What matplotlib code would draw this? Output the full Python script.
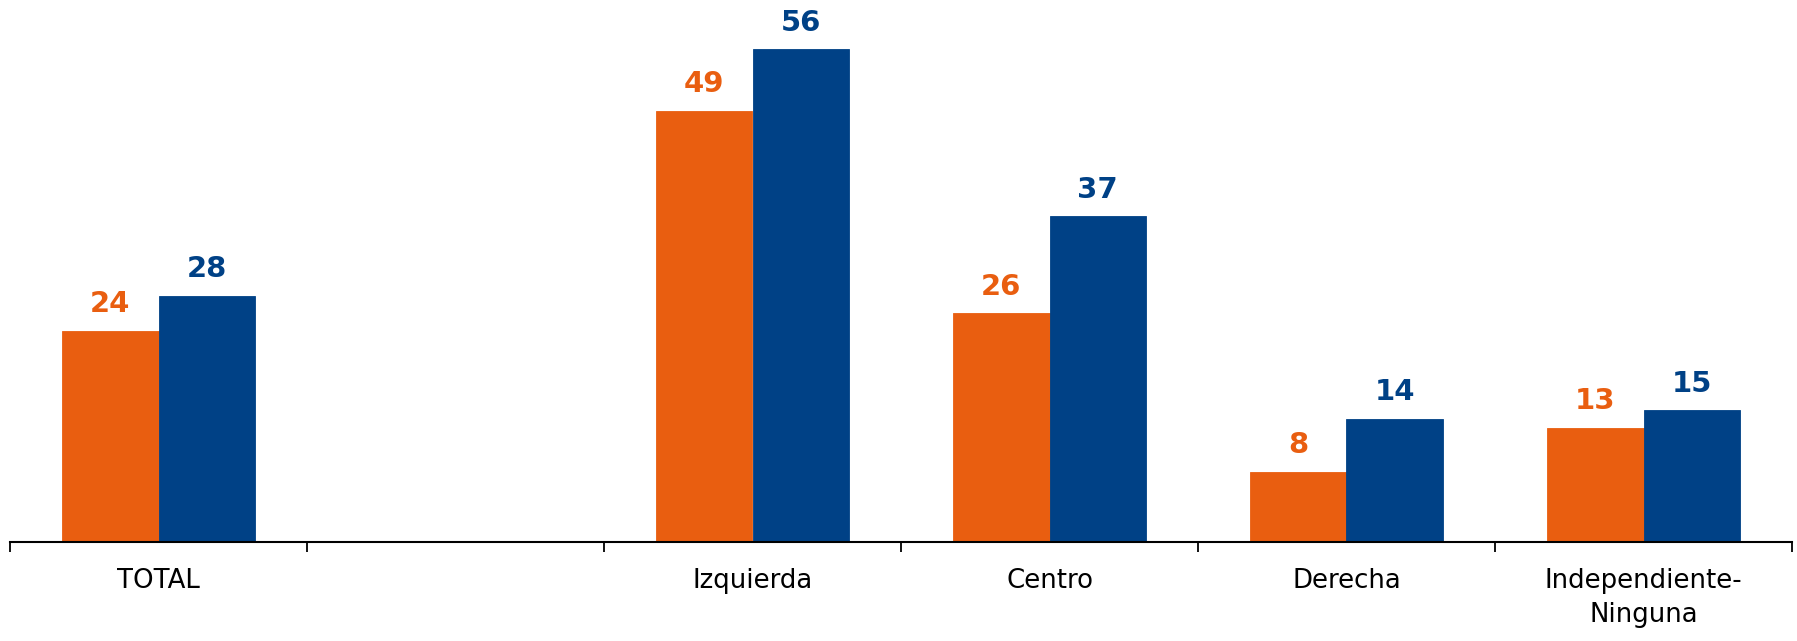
import numpy as np
import matplotlib.pyplot as plt

categories = ["TOTAL", "", "Izquierda", "Centro", "Derecha", "Independiente-\nNinguna"]
orange_vals = [24, np.nan, 49, 26, 8, 13]
blue_vals = [28, np.nan, 56, 37, 14, 15]

orange = "#E95E10"
blue = "#004186"

fig = plt.figure(figsize=(17.97, 6.41), dpi=100)
ax = fig.add_axes([10 / 1797, 1 - 542 / 641, 1782 / 1797, 542 / 641])

x = np.arange(len(categories))
w = 0.325
bo = ax.bar(x - w / 2, orange_vals, w, color=orange, edgecolor=orange, linewidth=0.6)
bb = ax.bar(x + w / 2, blue_vals, w, color=blue, edgecolor=blue, linewidth=0.6)

# value labels
for bars, vals, c in [(bo, orange_vals, orange), (bb, blue_vals, blue)]:
    for rect, v in zip(bars, vals):
        if np.isnan(v):
            continue
        ax.annotate(f"{v:.0f}", (rect.get_x() + rect.get_width() / 2, v),
                    xytext=(0, 9), textcoords="offset points",
                    ha="center", va="bottom", fontsize=21, fontweight="bold", color=c)

ax.set_xlim(-0.5, len(categories) - 0.5)
ax.set_ylim(0, 61.6)

# ticks at slot boundaries, labels centred in the slots
ax.set_xticks(np.arange(len(categories) + 1) - 0.5)
ax.set_xticklabels([])
ax.set_xticks(x, minor=True)
ax.set_xticklabels(categories, minor=True, fontsize=18.7, linespacing=1.4)
ax.tick_params(axis="x", which="major", length=7, width=1.3, direction="out")
ax.tick_params(axis="x", which="minor", length=0, pad=19)
ax.set_yticks([])

for s in ["top", "right", "left"]:
    ax.spines[s].set_visible(False)
ax.spines["bottom"].set_linewidth(1.5)

fig.savefig("out.png", dpi=100)
